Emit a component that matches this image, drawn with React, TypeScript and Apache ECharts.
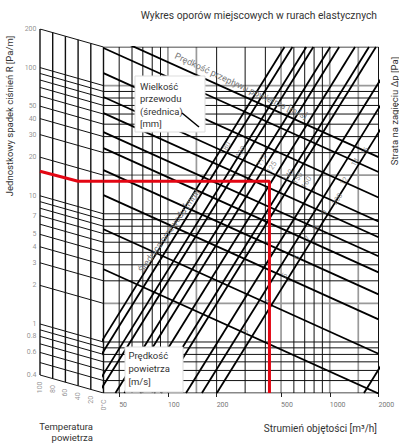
import React, { useEffect, useRef } from 'react';
import * as echarts from 'echarts';

const TITLE = 'Wykres oporów miejscowych w rurach elastycznych';
const Y_TITLE = 'Jednostkowy spadek ciśnień R [Pa/m]';
const RIGHT_TITLE = 'Strata na zagięciu Δp [Pa]';
const X_TITLE = 'Strumień objętości [m³/h]';
const TEMP_TITLE = ['Temperatura', 'powietrza'];
const DIAM_BOX = ['Wielkość', 'przewodu', '(średnica)', '[mm]'];
const VEL_BOX = ['Prędkość', 'powietrza', '[m/s]'];
const VEL_CURVE_TITLE = 'Prędkość przepływu powietrza [m/s]';
const DIAM_CURVE_TITLE = 'Średnica przewodu [mm]';

// pressure drop grid (Pa/m)
const R_GRID = [200, 100, 90, 80, 70, 60, 50, 40, 30, 20, 10, 9, 8, 7, 6, 5, 4, 3, 2, 1, 0.9, 0.8, 0.7, 0.6, 0.5, 0.4];
const R_GRAY = [100, 20, 2];
const R_LABELS = [200, 100, 50, 40, 30, 20, 10, 7, 5, 4, 3, 2, 1, 0.8, 0.6, 0.4];
// volume flow grid (m3/h)
const Q_GRID = [40, 50, 60, 70, 80, 90, 100, 150, 200, 300, 400, 500, 600, 700, 800, 900, 1000, 1500, 2000];
const Q_GRAY = [100, 150, 500, 1000, 1500];
const Q_TICKS = [50, 100, 200, 500, 1000, 2000];
// temperature correction panel
const TEMPS = [100, 80, 60, 40, 20, 0];
const TEMP_LABELS = ['100', '80', '60', '40', '20', '0°C'];
const TEMP_SHIFT = 1.382;

// air velocity lines (m/s): R at Q=40 and Q=2000
const VELOCITY = [16, 14, 12, 10, 9, 8, 7, 6, 5, 4, 3];
const VEL_R_AT_40 = [257, 196.5, 125, 81.4, 61, 43.4, 32.5, 21.9, 14, 7.57, 3.69];
const VEL_R_AT_2000 = [27.7, 21.2, 13.4, 8.7, 6.56, 4.66, 3.49, 2.35, 1.5, 0.81, 0.396];
const VEL_LABELS = ['3', '4', '5', '6', '7', '8', '9', '12', '14', '16'];
const VEL_LABEL_Q = [302, 412, 525, 622, 726, 814, 924, 1226, 1432, 1650];
const VEL_LABEL_R = [1.21, 2.07, 3.31, 4.58, 6.44, 7.85, 10.3, 17.95, 25.3, 30.8];

// duct diameter lines: Q at R=0.4 and Q at R=200
const DIAM_Q_AT_LOW = [24.7, 27.7, 33.8, 37.3, 47.4, 53.8, 67.5, 82.3, 90.9, 129.4, 162.2, 200.6, 1627];
const DIAM_Q_AT_HIGH = [525, 588, 716, 791, 1006, 1143, 1432, 1746, 1928, 2747, 3443, 4257, 34520];
const DIAM_LABELS = ['80', '100', '112', '125', '140', '150', '160', '200'];
const DIAM_LABEL_Q = [231, 282, 379, 437, 555, 631, 716, 1111];
const DIAM_LABEL_R = [33.7, 30.3, 26.2, 23.1, 20, 18.96, 17.6, 13.0];

// worked example (red)
const RED_TEMP = [100, 40, 0];
const RED_R_LEFT = [21.5, 17.95, 17.95];
const RED_Q = 424;
const RED_R = 17.95;

const FONT = 'Roboto, "Noto Sans", sans-serif';

export default function App() {
  const ref = useRef<HTMLDivElement>(null);
  useEffect(() => {
    const chart = echarts.init(ref.current!, null, { renderer: 'svg' });

    const seg = (g: number, data: number[][], color: string, width: number, z: number) => ({
      type: 'line', xAxisIndex: g, yAxisIndex: g, data, symbol: 'none', silent: true,
      clip: true, lineStyle: { color, width }, z, emphasis: { disabled: true },
    });

    const series: any[] = [];
    // left panel
    R_GRID.forEach((r) => series.push(seg(0, [[100, r * TEMP_SHIFT], [0, r]], '#111', 1, 2)));
    TEMPS.forEach((t) => {
      const f = Math.pow(TEMP_SHIFT, t / 100);
      series.push(seg(0, [[t, 0.4 * f], [t, 200 * f]], '#111', 1.4, 2));
    });
    // main grid
    R_GRID.forEach((r) => {
      const gray = R_GRAY.includes(r);
      series.push(seg(1, [[40, r], [2000, r]], gray ? '#9a9a9a' : '#111', gray ? 1.7 : 1, gray ? 1 : 2));
    });
    Q_GRID.forEach((q) => {
      const gray = Q_GRAY.includes(q);
      series.push(seg(1, [[q, 0.4], [q, 200]], gray ? '#9a9a9a' : '#111', gray ? 1.7 : 1, gray ? 1 : 2));
    });
    VELOCITY.forEach((v, i) => series.push(seg(1, [[40, VEL_R_AT_40[i]], [2000, VEL_R_AT_2000[i]]], '#000', 1.8, 3)));
    DIAM_Q_AT_LOW.forEach((q, i) => series.push(seg(1, [[q, 0.4], [DIAM_Q_AT_HIGH[i], 200]], '#000', 1.8, 3)));
    // red example
    series.push(seg(0, RED_TEMP.map((t, i) => [t, RED_R_LEFT[i]]), '#e30613', 3, 5));
    series.push(seg(1, [[40, RED_R], [RED_Q, RED_R], [RED_Q, 0.4]], '#e30613', 3, 5));

    const lbl = { show: true, fontSize: 7, color: '#777', fontFamily: FONT };
    series.push({
      type: 'scatter', xAxisIndex: 0, yAxisIndex: 0, symbolSize: 1, silent: true, z: 6,
      itemStyle: { color: 'rgba(0,0,0,0)' },
      label: { ...lbl, position: 'left', distance: 3, formatter: '{b}' },
      data: R_LABELS.map((r) => ({ name: String(r), value: [100, r * TEMP_SHIFT] })),
    });
    series.push({
      type: 'scatter', xAxisIndex: 0, yAxisIndex: 0, symbolSize: 1, silent: true, z: 6,
      itemStyle: { color: 'rgba(0,0,0,0)' },
      label: { ...lbl, position: 'bottom', distance: 6, rotate: 90, align: 'right', verticalAlign: 'middle', formatter: '{b}' },
      data: TEMPS.map((t, i) => ({ name: TEMP_LABELS[i], value: [t, 0.4 * Math.pow(TEMP_SHIFT, t / 100)] })),
    });
    series.push({
      type: 'scatter', xAxisIndex: 1, yAxisIndex: 1, symbolSize: 1, silent: true, z: 6,
      itemStyle: { color: 'rgba(0,0,0,0)' },
      label: { ...lbl, fontSize: 7.5, position: 'inside', rotate: 58, formatter: '{b}' },
      data: DIAM_LABELS.map((d, i) => ({ name: d, value: [DIAM_LABEL_Q[i], DIAM_LABEL_R[i]] })),
    });
    series.push({
      type: 'scatter', xAxisIndex: 1, yAxisIndex: 1, symbolSize: 1, silent: true, z: 6,
      itemStyle: { color: 'rgba(0,0,0,0)' },
      label: { ...lbl, fontSize: 7.5, position: 'inside', rotate: 58, formatter: '{b}' },
      data: VEL_LABELS.map((d, i) => ({ name: d, value: [VEL_LABEL_Q[i], VEL_LABEL_R[i]] })),
    });

    const txt = (text: string, x: number, y: number, size: number, color: string, align = 'center', rotation = 0) => ({
      type: 'text', x, y, rotation, z: 100, silent: true,
      style: {
        text, fill: color, fontSize: size, fontFamily: FONT,
        align, textAlign: align, verticalAlign: 'middle', textVerticalAlign: 'middle',
      },
    });
    const deg = Math.PI / 180;
    const graphic: any[] = [
      txt(TITLE, 377, 15, 10.3, '#333', 'right'),
      txt(Y_TITLE, 9, 116, 9.5, '#333', 'center', Math.PI / 2),
      txt(RIGHT_TITLE, 394, 111, 9.5, '#333', 'center', Math.PI / 2),
      txt(X_TITLE, 377, 428, 10, '#333', 'right'),
      txt(TEMP_TITLE[0], 93, 426.5, 9.5, '#333', 'right'),
      txt(TEMP_TITLE[1], 93, 437.5, 9.5, '#333', 'right'),
      txt(VEL_CURVE_TITLE, 241, 86, 9, '#777', 'center', -25 * deg),
      txt(DIAM_CURVE_TITLE, 169, 231, 9, '#777', 'center', 55 * deg),
      { type: 'rect', z: 99, silent: true, shape: { x: 135, y: 76, width: 70, height: 56 }, style: { fill: '#fff', stroke: '#ddd', lineWidth: 1 } },
      ...DIAM_BOX.map((t, i) => txt(t, 140, 86 + i * 12.5, 9.5, '#333', 'left')),
      { type: 'line', z: 101, silent: true, shape: { x1: 182, y1: 113, x2: 199, y2: 127 }, style: { stroke: '#000', lineWidth: 1.5 } },
      { type: 'rect', z: 99, silent: true, shape: { x: 125, y: 347, width: 58, height: 45 }, style: { fill: '#fff', stroke: '#ddd', lineWidth: 1 } },
      ...VEL_BOX.map((t, i) => txt(t, 128.5, 355.5 + i * 12.8, 9.5, '#333', 'left')),
    ];

    chart.setOption({
      animation: false,
      backgroundColor: '#fff',
      grid: [
        { left: 40, top: 29, width: 63.5, height: 364, containLabel: false, outerBoundsMode: 'none' },
        { left: 103.5, top: 47, width: 275, height: 346, containLabel: false, outerBoundsMode: 'none' },
      ],
      xAxis: [
        { type: 'value', gridIndex: 0, min: 0, max: 100, inverse: true, show: false },
        {
          type: 'log', gridIndex: 1, min: 40, max: 2000, logBase: 10,
          axisLine: { show: false }, splitLine: { show: false }, minorTick: { show: false },
          axisTick: { show: true, customValues: Q_TICKS, length: 4, lineStyle: { color: '#222' } },
          axisLabel: {
            show: true, customValues: Q_TICKS, align: 'left', margin: 8, fontSize: 7, color: '#777', fontFamily: FONT,
            formatter: (v: number) => String(Math.round(v)),
          },
        },
      ],
      yAxis: [
        { type: 'log', gridIndex: 0, min: 0.4, max: 200 * TEMP_SHIFT, show: false },
        { type: 'log', gridIndex: 1, min: 0.4, max: 200, show: false },
      ],
      series,
      graphic,
    });
    return () => chart.dispose();
  }, []);
  return <div ref={ref} style={{ position: 'fixed', left: 0, top: 0, width: 399, height: 443, background: '#fff' }} />;
}
